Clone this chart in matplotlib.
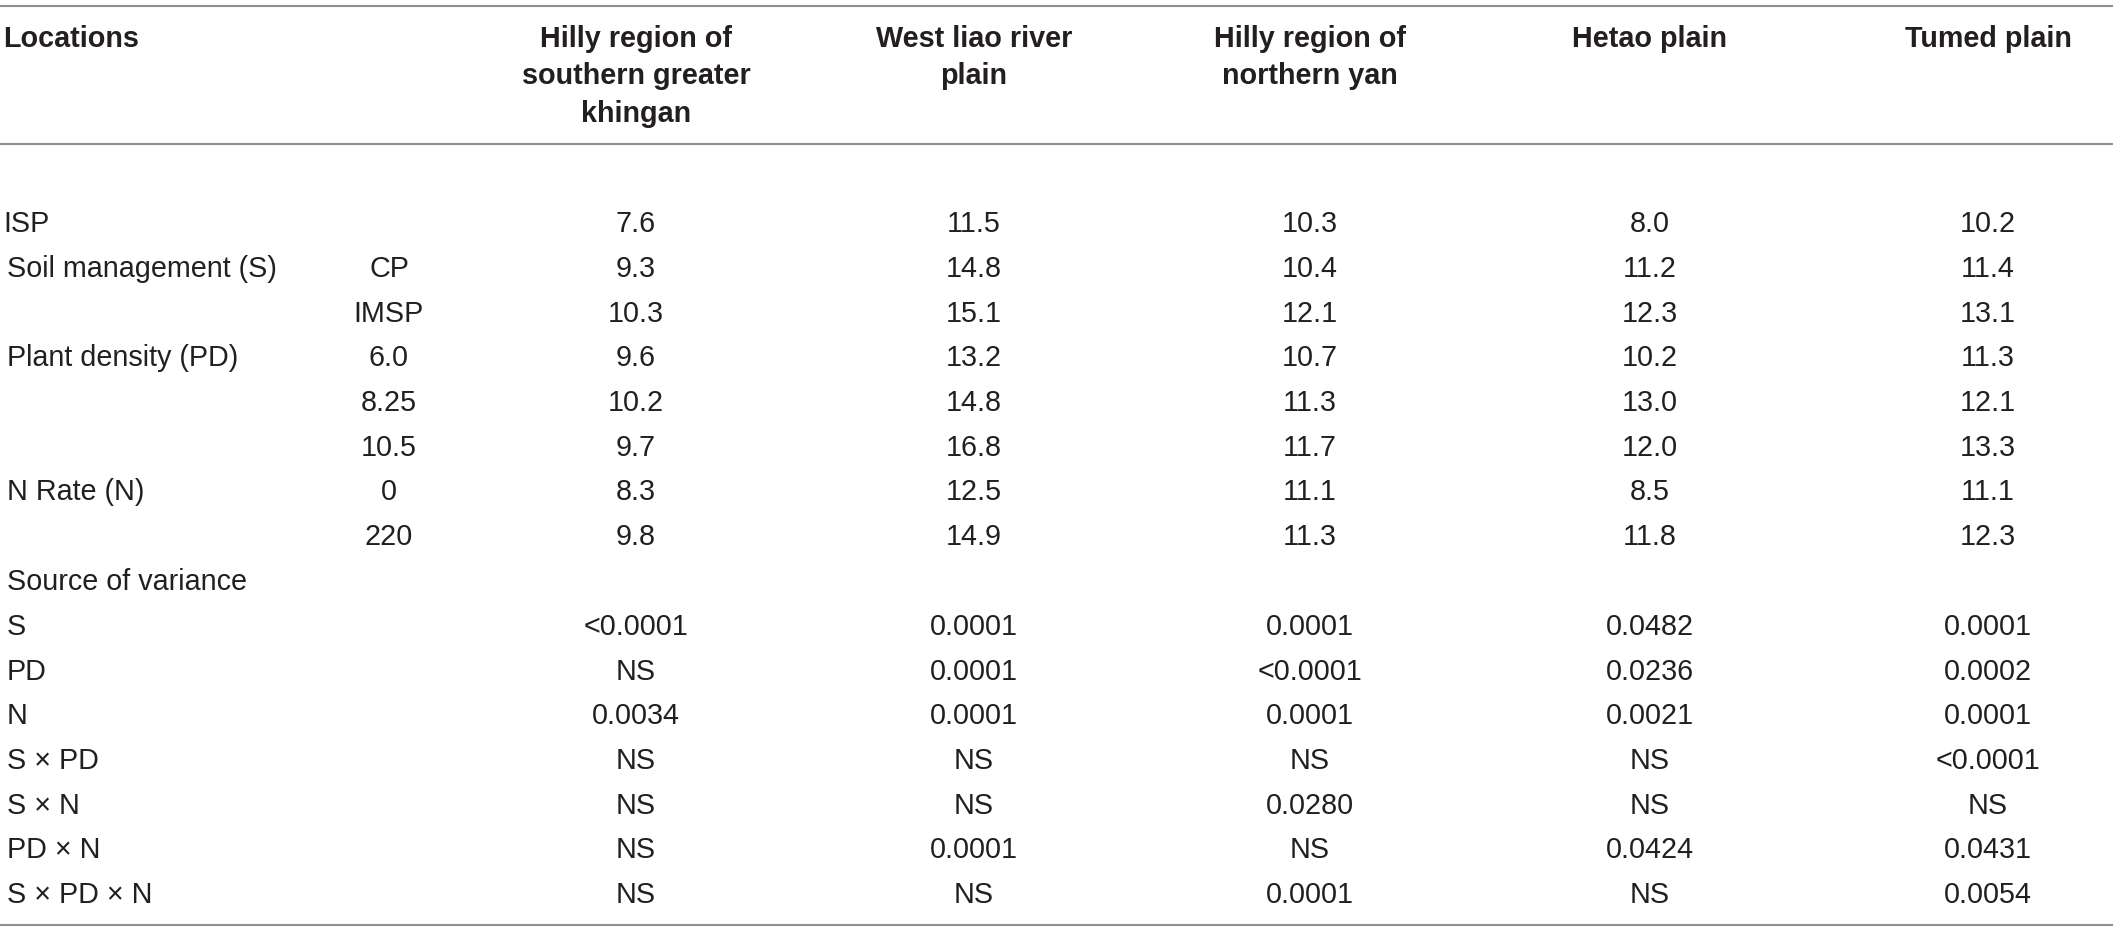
import matplotlib
matplotlib.use("Agg")
import matplotlib.pyplot as plt

# ---------------- data ----------------
columns = ["Hilly region of\nsouthern greater\nkhingan",
           "West liao river\nplain",
           "Hilly region of\nnorthern yan",
           "Hetao plain",
           "Tumed plain"]
header_first = "Locations"

row_labels = ["ISP", "Soil management (S)", "", "Plant density (PD)", "", "",
              "N Rate (N)", "", "Source of variance", "S", "PD", "N",
              "S \u00d7 PD", "S \u00d7 N", "PD \u00d7 N", "S \u00d7 PD \u00d7 N"]
sub_labels = ["", "CP", "IMSP", "6.0", "8.25", "10.5", "0", "220",
              "", "", "", "", "", "", "", ""]

hilly_khingan = ["7.6", "9.3", "10.3", "9.6", "10.2", "9.7", "8.3", "9.8",
                 "", "<0.0001", "NS", "0.0034", "NS", "NS", "NS", "NS"]
west_liao = ["11.5", "14.8", "15.1", "13.2", "14.8", "16.8", "12.5", "14.9",
             "", "0.0001", "0.0001", "0.0001", "NS", "NS", "0.0001", "NS"]
hilly_yan = ["10.3", "10.4", "12.1", "10.7", "11.3", "11.7", "11.1", "11.3",
             "", "0.0001", "<0.0001", "0.0001", "NS", "0.0280", "NS", "0.0001"]
hetao = ["8.0", "11.2", "12.3", "10.2", "13.0", "12.0", "8.5", "11.8",
         "", "0.0482", "0.0236", "0.0021", "NS", "NS", "0.0424", "NS"]
tumed = ["10.2", "11.4", "13.1", "11.3", "12.1", "13.3", "11.1", "12.3",
         "", "0.0001", "0.0002", "0.0001", "<0.0001", "NS", "0.0431", "0.0054"]
values = [hilly_khingan, west_liao, hilly_yan, hetao, tumed]

# ---------------- layout ----------------
W, H = 2119, 932
fig = plt.figure(figsize=(W / 100, H / 100), dpi=100)
ax = fig.add_axes([0, 0, 1, 1])
ax.set_xlim(0, W)
ax.set_ylim(H, 0)
ax.axis("off")

FONT = "Liberation Sans"
FS = 20.7
TXT = "#231f20"
LINE = "#8f8f8f"

col_x = [636, 974, 1310, 1650, 1988]
sub_x = 389
row_y0, row_dy = 232, 44.75
head_y0, head_dy = 47, 37.5

for y in (6, 144, 925):
    ax.plot([0, 2113], [y, y], color=LINE, lw=1.5, solid_capstyle="butt")

ax.text(3, head_y0, header_first, fontfamily=FONT, fontsize=FS,
        fontweight="bold", color=TXT, ha="left", va="baseline")
for cx, name in zip(col_x, columns):
    for k, line in enumerate(name.split("\n")):
        ax.text(cx, head_y0 + k * head_dy, line, fontfamily=FONT, fontsize=FS,
                fontweight="bold", color=TXT, ha="center", va="baseline")

for i, lab in enumerate(row_labels):
    y = row_y0 + i * row_dy
    if lab:
        ax.text(3 if lab == "ISP" else 7, y, lab, fontfamily=FONT, fontsize=FS,
                color=TXT, ha="left", va="baseline")
    if sub_labels[i]:
        ax.text(sub_x, y, sub_labels[i], fontfamily=FONT, fontsize=FS,
                color=TXT, ha="center", va="baseline")
    for cx, col in zip(col_x, values):
        if col[i]:
            ax.text(cx, y, col[i], fontfamily=FONT, fontsize=FS,
                    color=TXT, ha="center", va="baseline")

fig.savefig("out.png", dpi=100, facecolor="white")
